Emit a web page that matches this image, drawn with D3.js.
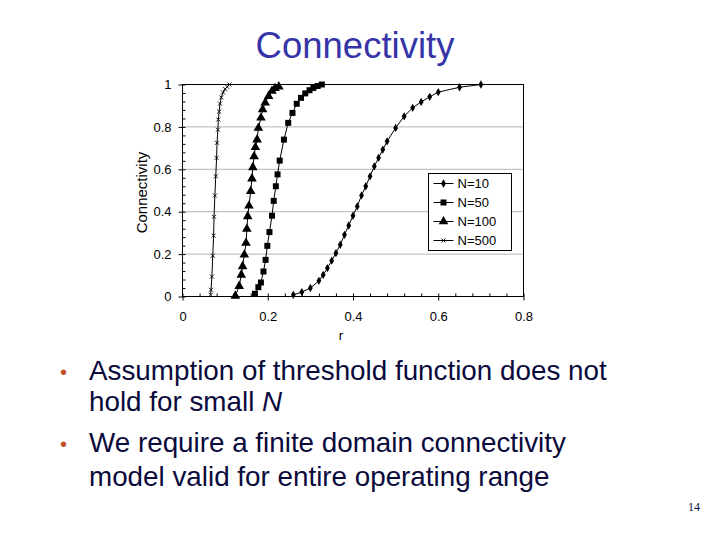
<!DOCTYPE html>
<meta charset="utf-8">
<style>
  body { margin: 0; background: #fff; }
  svg { display: block; font-family: Arial, "Liberation Sans", sans-serif; }
  .axis path { display: none; }
  .axis line { stroke: #000; }
  .axis text { font-size: 13px; fill: #000; }
</style>
<body>
<script src="https://d3js.org/d3.v7.min.js"></script>
<script>

// values
var r10 = [0.26, 0.28, 0.30, 0.32, 0.33, 0.34, 0.35, 0.36, 0.37, 0.38, 0.39, 0.40, 0.41, 0.42,
           0.43, 0.44, 0.45, 0.46, 0.47, 0.48, 0.50, 0.52, 0.54, 0.56, 0.58, 0.60, 0.65, 0.70];
var c10 = [0.008, 0.021, 0.040, 0.074, 0.102, 0.134, 0.169, 0.205, 0.244, 0.291, 0.335, 0.381, 0.425, 0.477,
           0.520, 0.567, 0.614, 0.654, 0.693, 0.732, 0.795, 0.850, 0.890, 0.918, 0.942, 0.964, 0.987, 1.0];

var r50 = [0.17, 0.178, 0.184, 0.19, 0.195, 0.199, 0.204, 0.21, 0.214, 0.219, 0.223, 0.228,
           0.238, 0.248, 0.258, 0.268, 0.278, 0.288, 0.298, 0.307, 0.317, 0.327];
var c50 = [0.013, 0.044, 0.066, 0.118, 0.173, 0.239, 0.304, 0.381, 0.451, 0.520, 0.576, 0.641,
           0.740, 0.819, 0.866, 0.909, 0.937, 0.958, 0.973, 0.984, 0.993, 1.0];

var r100 = [0.124, 0.133, 0.138, 0.141, 0.145, 0.149, 0.151, 0.153, 0.156, 0.160, 0.163, 0.165,
            0.168, 0.171, 0.175, 0.178, 0.184, 0.188, 0.194, 0.202, 0.210, 0.217, 0.226];
var c100 = [0.003, 0.049, 0.102, 0.142, 0.197, 0.252, 0.318, 0.378, 0.428, 0.496, 0.556, 0.609,
            0.661, 0.704, 0.740, 0.795, 0.843, 0.882, 0.914, 0.945, 0.969, 0.982, 0.99];

var r500 = [0.066, 0.067, 0.069, 0.071, 0.073, 0.074, 0.076, 0.078, 0.080, 0.081, 0.083,
            0.084, 0.086, 0.088, 0.091, 0.095, 0.100, 0.105, 0.110];
var c500 = [0.008, 0.032, 0.094, 0.192, 0.287, 0.376, 0.476, 0.567, 0.654, 0.725, 0.787,
            0.835, 0.872, 0.910, 0.939, 0.962, 0.979, 0.989, 1.0];

var seriesNames = ["N=10", "N=50", "N=100", "N=500"];
var xTicks = [0, 0.2, 0.4, 0.6, 0.8];
var xTickLabels = ["0", "0.2", "0.4", "0.6", "0.8"];
var yTicks = [0, 0.2, 0.4, 0.6, 0.8, 1];
var yTickLabels = ["0", "0.2", "0.4", "0.6", "0.8", "1"];
var gridValues = [0.2, 0.4, 0.6, 0.8];

var title = "Connectivity";
var bullets = [
  ["Assumption of threshold function does not", "hold for small "],
  ["We require a finite domain connectivity", "model valid for entire operating range"]
];

var width = 341, height = 212;

var svg = d3.select("body").append("svg")
    .attr("width", 720)
    .attr("height", 540);

svg.append("text")
    .attr("x", 355)
    .attr("y", 58)
    .attr("text-anchor", "middle")
    .style("font-size", "36.5px")
    .style("fill", "#3535a8")
    .text(title);

var g = svg.append("g")
    .attr("transform", "translate(182.5,84.5)");

var x = d3.scaleLinear().domain([0, 0.8]).range([0, width]);
var y = d3.scaleLinear().domain([0, 1]).range([height, 0]);

// grid
g.selectAll(".grid")
    .data(gridValues)
  .enter().append("line")
    .attr("x1", 0).attr("x2", width)
    .attr("y1", function(d) { return y(d); })
    .attr("y2", function(d) { return y(d); })
    .style("stroke", "#b4b4b4");

// minor ticks (inside)
g.append("g").attr("class", "axis")
    .call(d3.axisLeft(y).tickValues(d3.range(0, 1.001, 0.04)).tickSize(-3).tickFormat(""));
g.append("g").attr("class", "axis")
    .attr("transform", "translate(0," + height + ")")
    .call(d3.axisBottom(x).tickValues(d3.range(0, 0.801, 0.04)).tickSize(-3).tickFormat(""));

// major ticks
g.append("g").attr("class", "axis")
    .call(d3.axisLeft(y).tickValues(yTicks).tickSize(4).tickPadding(7)
      .tickFormat(function(d, i) { return yTickLabels[i]; }));
g.append("g").attr("class", "axis")
    .attr("transform", "translate(0," + height + ")")
    .call(d3.axisBottom(x).tickValues(xTicks).tickSize(4).tickPadding(11)
      .tickFormat(function(d, i) { return xTickLabels[i]; }));

g.append("rect")
    .attr("width", width)
    .attr("height", height)
    .style("fill", "none")
    .style("stroke", "#000");

g.append("text")
    .attr("x", x(0.4) - 12)
    .attr("y", height + 43)
    .attr("text-anchor", "middle")
    .style("font-size", "13px")
    .text("r");

g.append("text")
    .attr("transform", "translate(-36," + (height / 2 + 2) + ") rotate(-90)")
    .attr("text-anchor", "middle")
    .style("font-size", "15px")
    .text("Connectivity");

var symTimes = d3.symbolTimes || d3.symbolCross;
var markers = [
  {type: d3.symbolDiamond, size: 20, fill: "#000", stroke: "none"},
  {type: d3.symbolSquare, size: 36, fill: "#000", stroke: "none"},
  {type: d3.symbolTriangle, size: 40, fill: "#000", stroke: "none"},
  {type: symTimes, size: 12, fill: "none", stroke: "#000"}
];

var series = [[r10, c10], [r50, c50], [r100, c100], [r500, c500]].map(function(s, k) {
  return {name: seriesNames[k], marker: markers[k], points: s[0].map(function(r, i) { return [r, s[1][i]]; })};
});

var line = d3.line()
    .x(function(d) { return x(d[0]); })
    .y(function(d) { return y(d[1]); });

var sg = g.selectAll(".series")
    .data(series)
  .enter().append("g");

sg.append("path")
    .attr("d", function(d) { return line(d.points); })
    .style("fill", "none")
    .style("stroke", "#000")
    .style("stroke-width", 1);

sg.each(function(s) {
  d3.select(this).selectAll("path.pt")
      .data(s.points)
    .enter().append("path")
      .attr("class", "pt")
      .attr("transform", function(d) { return "translate(" + x(d[0]) + "," + y(d[1]) + ")"; })
      .attr("d", d3.symbol().type(s.marker.type).size(s.marker.size))
      .style("fill", s.marker.fill)
      .style("stroke", s.marker.stroke)
      .style("stroke-width", 0.9);
});

// legend
var lg = svg.append("g").attr("transform", "translate(428.5,173.5)");
lg.append("rect")
    .attr("width", 83)
    .attr("height", 77)
    .style("fill", "#fff")
    .style("stroke", "#000");

var items = lg.selectAll(".item")
    .data(series)
  .enter().append("g")
    .attr("transform", function(d, i) { return "translate(0," + (10 + i * 19) + ")"; });

items.append("line")
    .attr("x1", 5).attr("x2", 25)
    .style("stroke", "#000");
items.append("path")
    .attr("transform", "translate(15,0)")
    .attr("d", function(d) { return d3.symbol().type(d.marker.type).size(d.marker.size)(); })
    .style("fill", function(d) { return d.marker.fill; })
    .style("stroke", function(d) { return d.marker.stroke; })
    .style("stroke-width", 0.9);
items.append("text")
    .attr("x", 29)
    .attr("dy", "0.36em")
    .style("font-size", "13px")
    .text(function(d) { return d.name; });

// bullet text
var lineY = [[380, 411], [452, 486]];
bullets.forEach(function(b, k) {
  svg.append("text")
      .attr("x", 60)
      .attr("y", lineY[k][0] - 1)
      .style("font-size", "20px")
      .style("fill", "#c0502a")
      .text("\u2022");
  svg.append("text")
      .attr("x", 89)
      .attr("y", lineY[k][0])
      .style("font-size", "27.8px")
      .style("fill", "#0a0a3c")
      .text(b[0]);
  var t = svg.append("text")
      .attr("x", 89)
      .attr("y", lineY[k][1])
      .style("font-size", "27.8px")
      .style("fill", "#0a0a3c")
      .text(b[1]);
  if (k === 0) t.append("tspan").style("font-style", "italic").text("N");
});

svg.append("text")
    .attr("x", 700)
    .attr("y", 511)
    .attr("text-anchor", "end")
    .style("font-family", "'Liberation Serif', 'DejaVu Serif', serif")
    .style("font-size", "12px")
    .style("fill", "#0a0a3c")
    .text("14");

</script>
